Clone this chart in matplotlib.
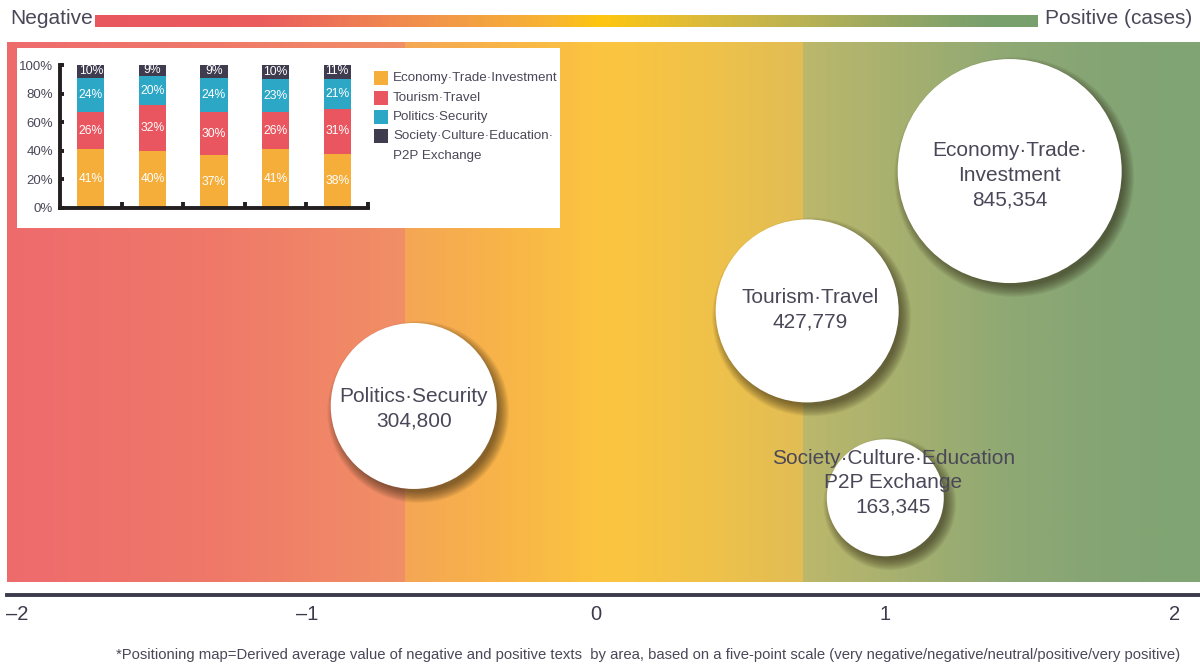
import numpy as np
import matplotlib
matplotlib.use("Agg")
import matplotlib.pyplot as plt
import matplotlib.transforms as mtransforms
from matplotlib.colors import LinearSegmentedColormap
from matplotlib.patches import Rectangle

# ---------------- data ----------------
bubble_labels = ["Economy·Trade·\nInvestment", "Tourism·Travel",
                 "Politics·Security", "Society·Culture·Education\nP2P Exchange"]
bubble_cases = [845354, 427779, 304800, 163345]
bubble_sentiment = [1.43, 0.73, -0.63, 1.00]

x_ticks = [-2, -1, 0, 1, 2]

share_categories = ["Economy·Trade·Investment", "Tourism·Travel", "Politics·Security",
                    "Society·Culture·Education·\nP2P Exchange"]
share_economy = [41, 40, 37, 41, 38]
share_tourism = [26, 32, 30, 26, 31]
share_politics = [24, 20, 24, 23, 21]
share_society = [10, 9, 9, 10, 11]

footnote = ("*Positioning map=Derived average value of negative and positive texts  by area, "
            "based on a five-point scale (very negative/negative/neutral/positive/very positive)")

# ---------------- layout / style ----------------
W, H = 1200, 669
FONT = ["Liberation Sans", "DejaVu Sans"]
plt.rcParams["font.family"] = FONT
TXT = "#4A4858"
bubble_ypos = [0.761, 0.502, 0.326, 0.156]          # vertical placement in panel (0-1)
bubble_radius_px = [112, 91.5, 83, 58.5]
label_offset_px = [(0, 4), (3, -1), (0, 3), (8, -15)]  # (dx, dy) text offset, dy down
share_colors = ["#F6AE3A", "#E9565F", "#2CA7C6", "#3F3C50"]

X0_PX, PX_PER_UNIT = 596.0, 289.3
PANEL_L, PANEL_R, PANEL_T, PANEL_B = 7, 1200, 42, 582


def v_of_px(px):
    return (px - X0_PX) / PX_PER_UNIT


def fx(px):
    return px / W


def fy(py):
    return 1 - py / H


fig = plt.figure(figsize=(W / 100, H / 100), dpi=100)

# ---------------- top gradient bar ----------------
axg = fig.add_axes([fx(95), fy(27), fx(1038 - 95), (27 - 15) / H])
top_stops = [(95, "#E8575F"), (260, "#EA5C5D"), (350, "#EE7A55"), (450, "#F29A47"),
             (550, "#F8B432"), (600, "#FEC60F"), (700, "#DDBB3A"), (800, "#BBB253"),
             (900, "#95A764"), (990, "#78A06C"), (1038, "#77A06C")]
cm_top = LinearSegmentedColormap.from_list(
    "top", [((p - 95) / (1038 - 95), c) for p, c in top_stops])
axg.imshow(np.linspace(0, 1, 512)[None, :], cmap=cm_top, aspect="auto",
           extent=[0, 1, 0, 1])
axg.set_axis_off()
fig.text(fx(10), fy(19), "Negative", fontsize=15, color=TXT, ha="left", va="center")
fig.text(fx(1192), fy(19), "Positive (cases)", fontsize=15, color=TXT,
         ha="right", va="center")

# ---------------- main panel ----------------
ax = fig.add_axes([fx(PANEL_L), fy(PANEL_B), fx(PANEL_R - PANEL_L),
                   (PANEL_B - PANEL_T) / H])
ax.set_xlim(v_of_px(PANEL_L), v_of_px(PANEL_R))
ax.set_ylim(0, 1)
ax.patch.set_alpha(0)

b1, b2 = v_of_px(405), v_of_px(803)
segments = [
    (v_of_px(PANEL_L), b1, [(0, "#EE6B6D"), (0.5, "#EF7869"), (1, "#F18F66")]),
    (b1, b2, [(0, "#F5A655"), (0.25, "#F8B548"), (0.5, "#FCC540"),
              (0.75, "#F0C249"), (1, "#E1BD55")]),
    (b2, v_of_px(PANEL_R), [(0, "#BCB86B"), (0.25, "#A6B06F"), (0.5, "#90A974"),
                            (0.75, "#85A574"), (1, "#80A474")]),
]
for i, (a, b, stops) in enumerate(segments):
    cm = LinearSegmentedColormap.from_list(f"seg{i}", stops)
    ax.imshow(np.linspace(0, 1, 256)[None, :], cmap=cm, aspect="auto",
              extent=[a, b, 0, 1], zorder=0)

for s in ["left", "right", "top"]:
    ax.spines[s].set_visible(False)
ax.spines["bottom"].set_position(("outward", 9.5))
ax.spines["bottom"].set_linewidth(2.8)
ax.spines["bottom"].set_color("#3B3B4B")
ax.set_yticks([])
ax.set_xticks(x_ticks)
ax.set_xticklabels([f"{t}".replace("-", "\u2013") for t in x_ticks])
ax.tick_params(axis="x", length=0, pad=7, labelsize=14.5, labelcolor="#3B3B4B")

# bubbles with soft shadow
shadow_trans = ax.transData + mtransforms.ScaledTranslation(4.5 / 100, -6 / 100,
                                                             fig.dpi_scale_trans)
for k in range(10):
    grow = k * 1.2
    sizes = [(2 * (r - 3 + grow) * 0.72) ** 2 for r in bubble_radius_px]
    ax.scatter(bubble_sentiment, bubble_ypos, s=sizes, color="#2a2010",
               alpha=0.07, linewidths=0, transform=shadow_trans, zorder=2)
sizes = [(2 * r * 0.72) ** 2 for r in bubble_radius_px]
ax.scatter(bubble_sentiment, bubble_ypos, s=sizes, color="white", linewidths=0,
           zorder=3)

for lab, n, xv, yv, (dx, dy) in zip(bubble_labels, bubble_cases, bubble_sentiment,
                                    bubble_ypos, label_offset_px):
    trans = ax.transData + mtransforms.ScaledTranslation(dx / 100, -dy / 100,
                                                          fig.dpi_scale_trans)
    ax.text(xv, yv, f"{lab}\n{n:,}", ha="center", va="center", fontsize=15,
            color=TXT, linespacing=1.38, transform=trans, zorder=4)

# ---------------- inset ----------------
fig.add_artist(Rectangle((fx(17), fy(228)), fx(560 - 17), (228 - 48) / H,
                         transform=fig.transFigure, facecolor="white",
                         edgecolor="none", zorder=1))
axi = fig.add_axes([fx(60), fy(208), fx(368 - 60), (208 - 65) / H], zorder=2)
axi.patch.set_alpha(0)
xs = np.arange(len(share_economy))
bottom = np.zeros(len(xs))
for vals, col in zip([share_economy, share_tourism, share_politics, share_society],
                     share_colors):
    vals = np.array(vals, dtype=float)
    axi.bar(xs, vals, bottom=bottom, width=0.44, color=col, linewidth=0, zorder=2)
    for xi, b, v in zip(xs, bottom, vals):
        axi.text(xi, b + v / 2, f"{int(v)}%", ha="center", va="center",
                 fontsize=8.7, color="white", zorder=3)
    bottom += vals
axi.set_xlim(-0.5, 4.5)
axi.set_ylim(0, 100)
for s in ["top", "right"]:
    axi.spines[s].set_visible(False)
for s in ["left", "bottom"]:
    axi.spines[s].set_linewidth(2.8)
    axi.spines[s].set_color("#231F20")
axi.set_yticks(range(0, 101, 20))
axi.set_yticklabels([f"{t}%" for t in range(0, 101, 20)])
axi.set_xticks(xs + 0.5)
axi.set_xticklabels([])
axi.tick_params(axis="x", direction="in", length=4, width=2.8, color="#231F20")
axi.tick_params(axis="y", direction="in", length=3, width=2.8, color="#231F20",
                labelsize=9.5, labelcolor=TXT, pad=5)

# legend (manual)
leg_rows_px = [78, 98, 117, 136]
for cat, col, yrow in zip(share_categories, share_colors, leg_rows_px):
    fig.add_artist(Rectangle((fx(374), fy(yrow + 7)), fx(14), 14 / H,
                             transform=fig.transFigure, facecolor=col,
                             edgecolor="none", zorder=3))
    for j, line in enumerate(cat.split("\n")):
        fig.text(fx(393), fy(yrow + 20 * j), line, ha="left", va="center",
                 fontsize=9.6, color=TXT, zorder=3)

# ---------------- footnote ----------------
fig.text(fx(648), fy(655), footnote, ha="center", va="center", fontsize=10.7,
         color=TXT)

fig.savefig("out.png", dpi=100)
